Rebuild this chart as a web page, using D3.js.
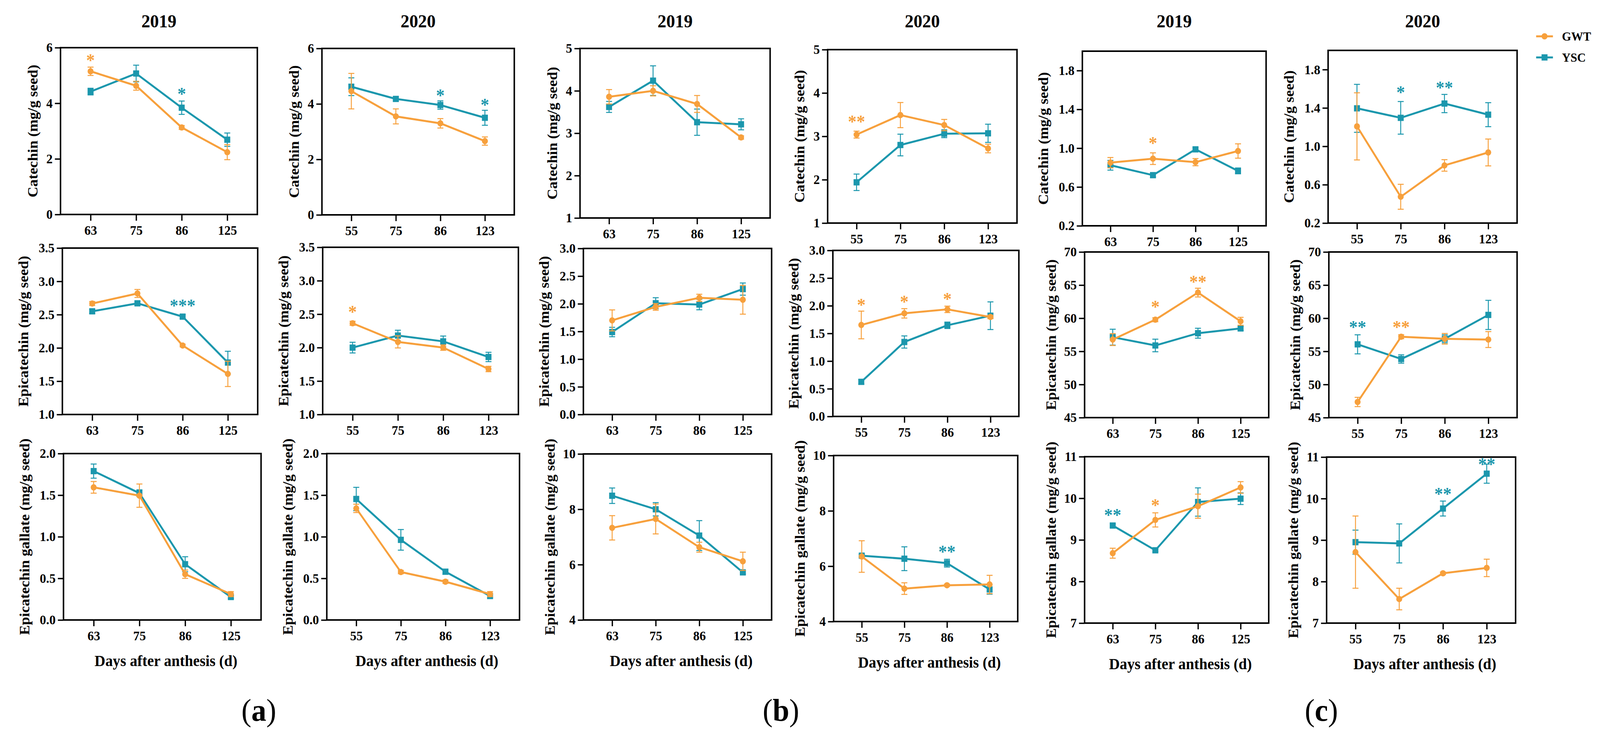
<!DOCTYPE html>
<html>
<head>
<meta charset="utf-8">
<script src="https://cdn.jsdelivr.net/npm/d3@7"></script>
<style>
  html, body { margin: 0; padding: 0; background: #fff; overflow: hidden; }
  svg { display: block; width: 100vw; height: 100vh; }
  text { font-family: "Liberation Serif", "Times New Roman", serif; }
</style>
</head>
<body>
<script>
// Days after anthesis (x categories)
var days2019 = ["63", "75", "86", "125"];
var days2020 = ["55", "75", "86", "123"];
var years = ["2019", "2020"];
var seriesNames = ["GWT", "YSC"];
var groupLabels = ["a", "b", "c"];
var yLabels = ["Catechin (mg/g seed)", "Epicatechin (mg/g seed)", "Epicatechin gallate (mg/g seed)"];

// Y tick values per group / compound
var aCatTicks = [0, 2, 4, 6];
var aEpiTicks = [1.0, 1.5, 2.0, 2.5, 3.0, 3.5];
var aEcgTicks = [0.0, 0.5, 1.0, 1.5, 2.0];
var bCatTicks = [1, 2, 3, 4, 5];
var bEpiTicks = [0.0, 0.5, 1.0, 1.5, 2.0, 2.5, 3.0];
var bEcgTicks = [4, 6, 8, 10];
var cCatTicks = [0.2, 0.6, 1.0, 1.4, 1.8];
var cCatDomain = [0.2, 2.0];
var cEpiTicks = [45, 50, 55, 60, 65, 70];
var cEcgTicks = [7, 8, 9, 10, 11];

// [mean, error] for each day
var aCat19Gwt = [[5.15, 0.15], [4.63, 0.16], [3.13, 0.07], [2.24, 0.27]];
var aCat19Ysc = [[4.42, 0.12], [5.07, 0.30], [3.84, 0.24], [2.69, 0.24]];
var aCat20Gwt = [[4.46, 0.64], [3.55, 0.27], [3.30, 0.17], [2.66, 0.15]];
var aCat20Ysc = [[4.62, 0.32], [4.18, 0.07], [3.96, 0.15], [3.50, 0.27]];
var bCat19Gwt = [[3.86, 0.17], [4.00, 0.12], [3.69, 0.20], [2.90, 0.04]];
var bCat19Ysc = [[3.62, 0.13], [4.24, 0.35], [3.26, 0.31], [3.21, 0.13]];
var bCat20Gwt = [[3.04, 0.08], [3.49, 0.29], [3.26, 0.13], [2.72, 0.10]];
var bCat20Ysc = [[1.94, 0.19], [2.80, 0.25], [3.06, 0.09], [3.07, 0.21]];
var cCat19Gwt = [[0.851, 0.053], [0.892, 0.06], [0.856, 0.037], [0.971, 0.074]];
var cCat19Ysc = [[0.824, 0.05], [0.722, 0.02], [0.988, 0.02], [0.766, 0.03]];
var cCat20Gwt = [[1.208, 0.35], [0.474, 0.13], [0.801, 0.06], [0.936, 0.14]];
var cCat20Ysc = [[1.396, 0.25], [1.297, 0.17], [1.446, 0.095], [1.33, 0.125]];

var aEpi19Gwt = [[2.667, 0.03], [2.818, 0.06], [2.036, 0.02], [1.61, 0.19]];
var aEpi19Ysc = [[2.55, 0.03], [2.67, 0.03], [2.47, 0.03], [1.78, 0.17]];
var aEpi20Gwt = [[2.364, 0.03], [2.085, 0.09], [2.0, 0.04], [1.68, 0.04]];
var aEpi20Ysc = [[2.0, 0.08], [2.18, 0.08], [2.093, 0.08], [1.86, 0.07]];
var bEpi19Gwt = [[1.70, 0.19], [1.944, 0.06], [2.108, 0.065], [2.073, 0.26]];
var bEpi19Ysc = [[1.49, 0.085], [2.01, 0.10], [1.987, 0.095], [2.266, 0.11]];
var bEpi20Gwt = [[1.653, 0.25], [1.863, 0.085], [1.935, 0.058], [1.797, 0.03]];
var bEpi20Ysc = [[0.625, 0.04], [1.345, 0.11], [1.647, 0.058], [1.82, 0.25]];
var cEpi19Gwt = [[56.78, 0.9], [59.78, 0.3], [63.87, 0.66], [59.54, 0.6]];
var cEpi19Ysc = [[57.14, 1.2], [55.89, 0.95], [57.74, 0.75], [58.46, 0.3]];
var cEpi20Gwt = [[47.36, 0.7], [57.21, 0.3], [56.9, 0.8], [56.78, 1.2]];
var cEpi20Ysc = [[56.06, 1.44], [53.85, 0.63], [56.9, 0.6], [60.5, 2.2]];

var aEcg19Gwt = [[1.594, 0.07], [1.494, 0.14], [0.55, 0.05], [0.311, 0.03]];
var aEcg19Ysc = [[1.789, 0.085], [1.524, 0.04], [0.67, 0.09], [0.276, 0.02]];
var aEcg20Gwt = [[1.341, 0.05], [0.576, 0.02], [0.46, 0.02], [0.311, 0.03]];
var aEcg20Ysc = [[1.454, 0.14], [0.963, 0.124], [0.58, 0.03], [0.288, 0.02]];
var bEcg19Gwt = [[7.33, 0.44], [7.65, 0.54], [6.63, 0.18], [6.12, 0.33]];
var bEcg19Ysc = [[8.49, 0.28], [8.0, 0.24], [7.05, 0.54], [5.72, 0.06]];
var bEcg20Gwt = [[6.35, 0.57], [5.19, 0.21], [5.31, 0.04], [5.34, 0.33]];
var bEcg20Ysc = [[6.38, 0.05], [6.27, 0.43], [6.11, 0.14], [5.16, 0.17]];
var cEcg19Gwt = [[8.68, 0.12], [9.48, 0.17], [9.81, 0.29], [10.26, 0.14]];
var cEcg19Ysc = [[9.345, 0.04], [8.75, 0.03], [9.91, 0.34], [9.99, 0.14]];
var cEcg20Gwt = [[8.71, 0.87], [7.58, 0.26], [8.2, 0.03], [8.33, 0.21]];
var cEcg20Ysc = [[8.95, 0.29], [8.92, 0.47], [9.76, 0.18], [10.6, 0.23]];

// Significance marks: [series, day index, label, y value]
var aCat19Sig = [["GWT", 0, "*", 5.63], ["YSC", 2, "*", 4.42]];
var aCat20Sig = [["YSC", 2, "*", 4.39], ["YSC", 3, "*", 4.06]];
var bCat20Sig = [["GWT", 0, "**", 3.40]];
var cCat19Sig = [["GWT", 1, "*", 1.078]];
var cCat20Sig = [["YSC", 1, "*", 1.587], ["YSC", 2, "**", 1.637]];
var aEpi19Sig = [["YSC", 2, "***", 2.67]];
var aEpi20Sig = [["GWT", 0, "*", 2.57]];
var bEpi20Sig = [["GWT", 0, "*", 2.064], ["GWT", 1, "*", 2.12], ["GWT", 2, "*", 2.165]];
var cEpi19Sig = [["GWT", 1, "*", 62.07], ["GWT", 2, "**", 65.87]];
var cEpi20Sig = [["YSC", 0, "**", 59.06], ["GWT", 1, "**", 59.06]];
var bEcg20Sig = [["YSC", 2, "**", 6.61]];
var cEcg19Sig = [["YSC", 0, "**", 9.66], ["GWT", 1, "*", 9.89]];
var cEcg20Sig = [["YSC", 2, "**", 10.17], ["YSC", 3, "**", 10.89]];

// Panels, row by row
var panels = [
    { row: 0, ticks: aCatTicks, fmt: "d", gwt: aCat19Gwt, ysc: aCat19Ysc, sig: aCat19Sig },
    { row: 0, ticks: aCatTicks, fmt: "d", gwt: aCat20Gwt, ysc: aCat20Ysc, sig: aCat20Sig },
    { row: 0, ticks: bCatTicks, fmt: "d", gwt: bCat19Gwt, ysc: bCat19Ysc, sig: [] },
    { row: 0, ticks: bCatTicks, fmt: "d", gwt: bCat20Gwt, ysc: bCat20Ysc, sig: bCat20Sig },
    { row: 0, ticks: cCatTicks, fmt: ".1f", domain: cCatDomain, gwt: cCat19Gwt, ysc: cCat19Ysc, sig: cCat19Sig },
    { row: 0, ticks: cCatTicks, fmt: ".1f", domain: cCatDomain, gwt: cCat20Gwt, ysc: cCat20Ysc, sig: cCat20Sig },
    { row: 1, ticks: aEpiTicks, fmt: ".1f", gwt: aEpi19Gwt, ysc: aEpi19Ysc, sig: aEpi19Sig },
    { row: 1, ticks: aEpiTicks, fmt: ".1f", gwt: aEpi20Gwt, ysc: aEpi20Ysc, sig: aEpi20Sig },
    { row: 1, ticks: bEpiTicks, fmt: ".1f", gwt: bEpi19Gwt, ysc: bEpi19Ysc, sig: [] },
    { row: 1, ticks: bEpiTicks, fmt: ".1f", gwt: bEpi20Gwt, ysc: bEpi20Ysc, sig: bEpi20Sig },
    { row: 1, ticks: cEpiTicks, fmt: "d", gwt: cEpi19Gwt, ysc: cEpi19Ysc, sig: cEpi19Sig },
    { row: 1, ticks: cEpiTicks, fmt: "d", gwt: cEpi20Gwt, ysc: cEpi20Ysc, sig: cEpi20Sig },
    { row: 2, ticks: aEcgTicks, fmt: ".1f", gwt: aEcg19Gwt, ysc: aEcg19Ysc, sig: [] },
    { row: 2, ticks: aEcgTicks, fmt: ".1f", gwt: aEcg20Gwt, ysc: aEcg20Ysc, sig: [] },
    { row: 2, ticks: bEcgTicks, fmt: "d", gwt: bEcg19Gwt, ysc: bEcg19Ysc, sig: [] },
    { row: 2, ticks: bEcgTicks, fmt: "d", gwt: bEcg20Gwt, ysc: bEcg20Ysc, sig: bEcg20Sig },
    { row: 2, ticks: cEcgTicks, fmt: "d", gwt: cEcg19Gwt, ysc: cEcg19Ysc, sig: cEcg19Sig },
    { row: 2, ticks: cEcgTicks, fmt: "d", gwt: cEcg20Gwt, ysc: cEcg20Ysc, sig: cEcg20Sig }
];

// Plot frames [left, right, top, bottom] in pixels
var layout = [
    [162, 689, 122, 549], [862, 1377, 124, 550], [1553, 2062, 124, 558],
    [2216, 2723, 127, 571], [2898, 3390, 131, 578], [3556, 4062, 129, 571],
    [167, 690, 635, 1061], [864, 1388, 633, 1061], [1562, 2066, 636, 1061],
    [2230, 2728, 641, 1066], [2904, 3397, 645, 1069], [3558, 4062, 645, 1069],
    [170, 699, 1161, 1587], [875, 1391, 1161, 1587], [1562, 2066, 1162, 1587],
    [2232, 2725, 1166, 1591], [2904, 3397, 1169, 1595], [3552, 4058, 1170, 1595]
];

var w = 4284, h = 1884;
var orange = "#F7A03C", teal = "#1B97AD";
var colors = { GWT: orange, YSC: teal };
var serif = "Liberation Serif, Times New Roman, serif";

// Drawn in a 4284 x 1884 coordinate space, stretched to the window
var svg = d3.select("body").append("svg")
    .attr("viewBox", "0 0 " + w + " " + h)
    .attr("preserveAspectRatio", "none")
    .attr("font-family", serif);

panels.forEach(function(p, k){
    var col = k % 6;
    var box = layout[k];
    var x0 = box[0], x1 = box[1], y0 = box[2], y1 = box[3];
    var days = col % 2 === 0 ? days2019 : days2020;

    var x = d3.scalePoint().domain(days).range([x0, x1]).padding(0.66);
    var y = d3.scaleLinear()
        .domain(p.domain || [p.ticks[0], p.ticks[p.ticks.length - 1]])
        .range([y1, y0]);

    var g = svg.append("g");

    // Frame
    g.append("rect")
        .attr("x", x0).attr("y", y0)
        .attr("width", x1 - x0).attr("height", y1 - y0)
        .style("fill", "none")
        .style("stroke", "#000")
        .style("stroke-width", 4);

    // Y axis
    var yAxis = d3.axisLeft(y)
        .tickValues(p.ticks)
        .tickSize(15)
        .tickPadding(6)
        .tickFormat(d3.format(p.fmt));
    var ya = g.append("g")
        .attr("transform", "translate(" + x0 + ",0)")
        .call(yAxis);
    ya.select(".domain").remove();

    // X axis
    var xAxis = d3.axisBottom(x).tickSize(16).tickPadding(12);
    var xa = g.append("g")
        .attr("transform", "translate(0," + y1 + ")")
        .call(xAxis);
    xa.select(".domain").remove();

    [ya, xa].forEach(function(a){
        a.attr("font-family", serif).attr("font-size", 34);
        a.selectAll("line").attr("stroke", "#000").attr("stroke-width", 3.5);
        a.selectAll("text").attr("fill", "#000").attr("font-weight", "bold");
    });

    // Y label
    var chars = d3.max(p.ticks, function(t){ return d3.format(p.fmt)(t).length; });
    var lx = x0 - (60 + 15 * chars) + 13;
    var ly = (y0 + y1) / 2;
    g.append("text")
        .attr("transform", "translate(" + lx + "," + ly + ") rotate(-90)")
        .attr("text-anchor", "middle")
        .attr("font-size", 38)
        .attr("font-weight", "bold")
        .text(yLabels[p.row]);

    // Year title on top row
    if (p.row === 0) {
        g.append("text")
            .attr("x", (x0 + x1) / 2)
            .attr("y", 70)
            .attr("text-anchor", "middle")
            .attr("font-size", 47)
            .attr("font-weight", "bold")
            .text(years[col % 2]);
    }

    // X label on bottom row
    if (p.row === 2) {
        g.append("text")
            .attr("x", (x0 + x1) / 2 + 10)
            .attr("y", y1 + 118)
            .attr("text-anchor", "middle")
            .attr("font-size", 40)
            .attr("font-weight", "bold")
            .text("Days after anthesis (d)");
    }

    // Series: YSC below, GWT on top
    [["YSC", p.ysc], ["GWT", p.gwt]].forEach(function(s){
        var name = s[0], data = s[1], c = colors[name];
        var pts = data.map(function(d, i){ return { day: days[i], m: d[0], e: d[1] }; });

        var eb = g.append("g").style("stroke", c).style("stroke-width", 2.5);
        eb.selectAll(".v").data(pts).enter().append("line")
            .attr("x1", function(d){ return x(d.day); })
            .attr("x2", function(d){ return x(d.day); })
            .attr("y1", function(d){ return y(d.m + d.e); })
            .attr("y2", function(d){ return y(d.m - d.e); });
        [1, -1].forEach(function(sign){
            eb.selectAll(".cap" + sign).data(pts).enter().append("line")
                .attr("x1", function(d){ return x(d.day) - 8; })
                .attr("x2", function(d){ return x(d.day) + 8; })
                .attr("y1", function(d){ return y(d.m + sign * d.e); })
                .attr("y2", function(d){ return y(d.m + sign * d.e); });
        });

        var line = d3.line()
            .x(function(d){ return x(d.day); })
            .y(function(d){ return y(d.m); });
        g.append("path")
            .datum(pts)
            .attr("d", line)
            .style("fill", "none")
            .style("stroke", c)
            .style("stroke-width", 5)
            .style("stroke-linejoin", "round");

        if (name === "GWT") {
            g.selectAll(".gm").data(pts).enter().append("circle")
                .attr("cx", function(d){ return x(d.day); })
                .attr("cy", function(d){ return y(d.m); })
                .attr("r", 8)
                .style("fill", c);
        } else {
            g.selectAll(".ym").data(pts).enter().append("rect")
                .attr("x", function(d){ return x(d.day) - 8; })
                .attr("y", function(d){ return y(d.m) - 8; })
                .attr("width", 16).attr("height", 16)
                .style("fill", c);
        }
    });

    // Significance asterisks
    g.selectAll(".sig").data(p.sig).enter().append("text")
        .attr("x", function(d){ return x(days[d[1]]); })
        .attr("y", function(d){ return y(d[3]) + 22; })
        .attr("text-anchor", "middle")
        .attr("font-size", 46)
        .attr("font-weight", "bold")
        .style("fill", function(d){ return colors[d[0]]; })
        .text(function(d){ return d[2]; });
});

// Group labels (a) (b) (c)
var groupX = [693, 2091, 3538];
groupLabels.forEach(function(l, i){
    var t = svg.append("text")
        .attr("x", groupX[i])
        .attr("y", 1845)
        .attr("text-anchor", "middle")
        .attr("font-size", 80);
    t.append("tspan").text("(");
    t.append("tspan").attr("font-weight", "bold").text(l);
    t.append("tspan").text(")");
});

// Legend
var legend = svg.selectAll(".legend")
    .data(seriesNames)
    .enter()
    .append("g")
    .attr("class", "legend")
    .attr("transform", function(d, i){ return "translate(4113," + (93 + i * 54) + ")"; });

legend.append("line")
    .attr("x1", 0).attr("x2", 45)
    .style("stroke", function(d){ return colors[d]; })
    .style("stroke-width", 5);

legend.each(function(d){
    var lg = d3.select(this);
    if (d === "GWT") {
        lg.append("circle").attr("cx", 22.5).attr("r", 8).style("fill", colors[d]);
    } else {
        lg.append("rect").attr("x", 14.5).attr("y", -8).attr("width", 16).attr("height", 16).style("fill", colors[d]);
    }
});

legend.append("text")
    .attr("x", 69)
    .attr("y", 11)
    .attr("font-size", 32)
    .attr("font-weight", "bold")
    .text(function(d){ return d; });
</script>
</body>
</html>
